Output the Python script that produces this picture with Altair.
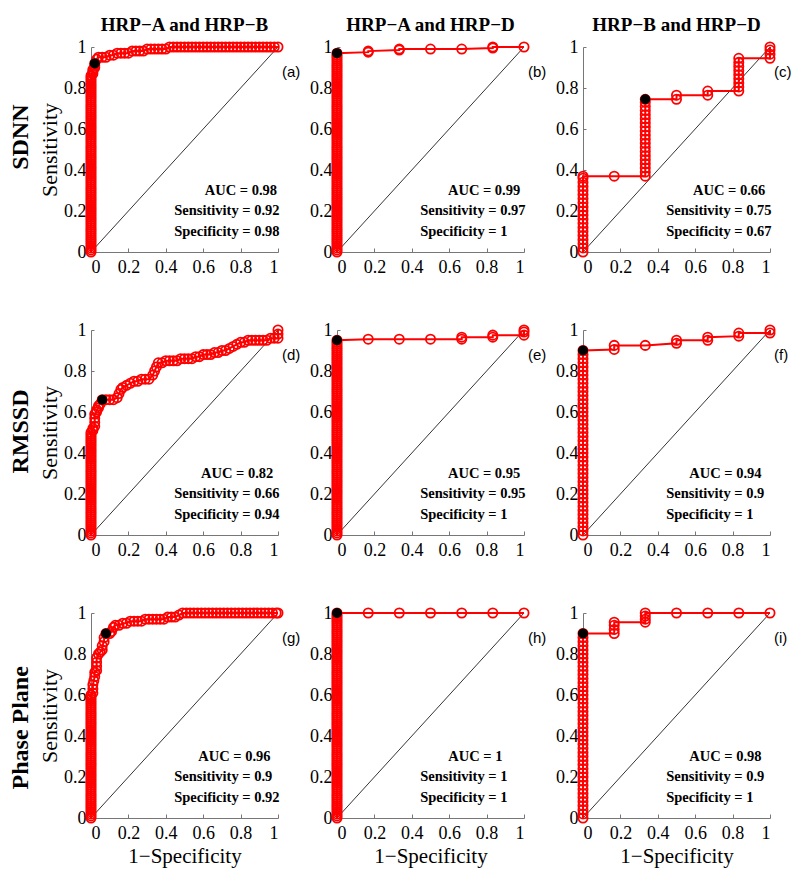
import altair as alt
import pandas as pd

# ---------------- values ----------------
col_titles = ["HRP−A and HRP−B", "HRP−A and HRP−D", "HRP−B and HRP−D"]
row_titles = ["SDNN", "RMSSD", "Phase Plane"]
panel_tags = ["(a)", "(b)", "(c)", "(d)", "(e)", "(f)", "(g)", "(h)", "(i)"]
auc_values = ["0.98", "0.99", "0.66", "0.82", "0.95", "0.94", "0.96", "1", "0.98"]
sens_values = ["0.92", "0.97", "0.75", "0.66", "0.95", "0.9", "0.9", "1", "0.9"]
spec_values = ["0.98", "1", "0.67", "0.94", "1", "1", "0.92", "1", "1"]
op_fpr = [0.02, 0.0, 0.333, 0.06, 0.0, 0.0, 0.08, 0.0, 0.0]
op_tpr = [0.92, 0.97, 0.745, 0.66, 0.95, 0.90, 0.90, 1.0, 0.90]
tick_values = [0, 0.2, 0.4, 0.6, 0.8, 1]
diag_x = [0, 1]
diag_y = [0, 1]

# sensitivities (in %) of the thresholds stacked at 1-specificity = 0
stack_a = [0, 1, 2, 3, 4, 5, 6, 7, 8, 9, 10, 11, 12, 13, 14, 15, 16, 17, 18, 19,
           20, 21, 22, 23, 24, 25, 26, 27, 28, 29, 30, 31, 32, 33, 34, 35, 36, 37, 38, 39,
           40, 41, 42, 43, 44, 45, 46, 47, 48, 49, 50, 51, 52, 53, 54, 55, 56, 57, 58, 59,
           60, 61, 62, 63, 64, 65, 66, 67, 68, 69, 70, 71, 72, 73, 74, 75, 76, 77, 78, 79,
           80, 81, 82, 83, 84, 85, 86]
stack_b = [0, 1, 2, 3, 4, 5, 6, 7, 8, 9, 10, 11, 12, 13, 14, 15, 16, 17, 18, 19,
           20, 21, 22, 23, 24, 25, 26, 27, 28, 29, 30, 31, 32, 33, 34, 35, 36, 37, 38, 39,
           40, 41, 42, 43, 44, 45, 46, 47, 48, 49, 50, 51, 52, 53, 54, 55, 56, 57, 58, 59,
           60, 61, 62, 63, 64, 65, 66, 67, 68, 69, 70, 71, 72, 73, 74, 75, 76, 77, 78, 79,
           80, 81, 82, 83, 84, 85, 86, 87, 88, 89, 90, 91, 92, 93, 94, 95, 96, 97]
stack_c = [0, 2, 4, 6, 8, 10, 12, 14, 16, 18, 20, 22, 24, 26, 28, 30, 32, 34, 36, 37]
stack_d = [0, 1, 2, 3, 4, 5, 6, 7, 8, 9, 10, 11, 12, 13, 14, 15, 16, 17, 18, 19,
           20, 21, 22, 23, 24, 25, 26, 27, 28, 29, 30, 31, 32, 33, 34, 35, 36, 37, 38, 39,
           40, 41, 42, 43, 44, 45, 46, 47, 48, 49, 50]
stack_e = [0, 1, 2, 3, 4, 5, 6, 7, 8, 9, 10, 11, 12, 13, 14, 15, 16, 17, 18, 19,
           20, 21, 22, 23, 24, 25, 26, 27, 28, 29, 30, 31, 32, 33, 34, 35, 36, 37, 38, 39,
           40, 41, 42, 43, 44, 45, 46, 47, 48, 49, 50, 51, 52, 53, 54, 55, 56, 57, 58, 59,
           60, 61, 62, 63, 64, 65, 66, 67, 68, 69, 70, 71, 72, 73, 74, 75, 76, 77, 78, 79,
           80, 81, 82, 83, 84, 85, 86, 87, 88, 89, 90, 91, 92, 93, 94, 95]
stack_f = [0, 2, 4, 6, 8, 10, 12, 14, 16, 18, 20, 22, 24, 26, 28, 30, 32, 34, 36, 38,
           40, 42, 44, 46, 48, 50, 52, 54, 56, 58, 60, 62, 64, 66, 68, 70, 72, 74, 76, 78,
           80, 82, 84, 86, 88, 90]
stack_g = [0, 1, 2, 3, 4, 5, 6, 7, 8, 9, 10, 11, 12, 13, 14, 15, 16, 17, 18, 19,
           20, 21, 22, 23, 24, 25, 26, 27, 28, 29, 30, 31, 32, 33, 34, 35, 36, 37, 38, 39,
           40, 41, 42, 43, 44, 45, 46, 47, 48, 49, 50, 51, 52, 53, 54, 55, 56, 57, 58, 59, 60]
stack_h = [0, 1, 2, 3, 4, 5, 6, 7, 8, 9, 10, 11, 12, 13, 14, 15, 16, 17, 18, 19,
           20, 21, 22, 23, 24, 25, 26, 27, 28, 29, 30, 31, 32, 33, 34, 35, 36, 37, 38, 39,
           40, 41, 42, 43, 44, 45, 46, 47, 48, 49, 50, 51, 52, 53, 54, 55, 56, 57, 58, 59,
           60, 61, 62, 63, 64, 65, 66, 67, 68, 69, 70, 71, 72, 73, 74, 75, 76, 77, 78, 79,
           80, 81, 82, 83, 84, 85, 86, 87, 88, 89, 90, 91, 92, 93, 94, 95, 96, 97, 98, 99, 100]
stack_i = [0, 2, 4, 6, 8, 10, 12, 14, 16, 18, 20, 22, 24, 26, 28, 30, 32, 34, 36, 38,
           40, 42, 44, 46, 48, 50, 52, 54, 56, 58, 60, 62, 64, 66, 68, 70, 72, 74, 76, 78,
           80, 82, 84, 86, 88, 90]

# remaining ROC points (1-specificity, sensitivity)
a_fpr = [0.01, 0.01, 0.01, 0.02, 0.02, 0.02, 0.03, 0.04,
         0.06, 0.08, 0.10, 0.12, 0.14, 0.16, 0.18, 0.20, 0.22, 0.24, 0.26, 0.28, 0.30, 0.32,
         0.34, 0.36, 0.38, 0.40, 0.42, 0.44, 0.46, 0.48, 0.50, 0.52, 0.54, 0.56, 0.58, 0.60,
         0.62, 0.64, 0.66, 0.68, 0.70, 0.72, 0.74, 0.76, 0.78, 0.80, 0.82, 0.84, 0.86, 0.88,
         0.90, 0.92, 0.94, 0.96, 0.98, 1.00]
a_tpr = [0.87, 0.88, 0.89, 0.90, 0.91, 0.92, 0.94, 0.95,
         0.95, 0.95, 0.96, 0.96, 0.97, 0.97, 0.97, 0.97, 0.98, 0.98, 0.98, 0.98, 0.99, 0.99,
         0.99, 0.99, 0.99, 0.99, 1.00, 1.00, 1.00, 1.00, 1.00, 1.00, 1.00, 1.00, 1.00, 1.00,
         1.00, 1.00, 1.00, 1.00, 1.00, 1.00, 1.00, 1.00, 1.00, 1.00, 1.00, 1.00, 1.00, 1.00,
         1.00, 1.00, 1.00, 1.00, 1.00, 1.00]
b_fpr = [0.167, 0.167, 0.333, 0.333, 0.5, 0.667, 0.833, 0.833, 1.0]
b_tpr = [0.975, 0.98, 0.985, 0.99, 0.99, 0.99, 0.995, 1.0, 1.0]
c_fpr = [0.167,
         0.333, 0.333, 0.333, 0.333, 0.333, 0.333, 0.333, 0.333, 0.333, 0.333,
         0.333, 0.333, 0.333, 0.333, 0.333, 0.333, 0.333, 0.333, 0.333, 0.333,
         0.5, 0.5, 0.667, 0.667,
         0.833, 0.833, 0.833, 0.833, 0.833, 0.833, 0.833, 0.833, 0.833,
         1.0, 1.0, 1.0, 1.0]
c_tpr = [0.37,
         0.37, 0.39, 0.41, 0.43, 0.45, 0.47, 0.49, 0.51, 0.53, 0.55,
         0.57, 0.59, 0.61, 0.63, 0.65, 0.67, 0.69, 0.71, 0.73, 0.745,
         0.745, 0.765, 0.765, 0.785,
         0.785, 0.805, 0.825, 0.845, 0.865, 0.885, 0.905, 0.925, 0.945,
         0.945, 0.965, 0.985, 1.0]
d_fpr = [0.01, 0.01, 0.02, 0.02, 0.02, 0.02, 0.03, 0.03, 0.04, 0.04, 0.05, 0.06,
         0.08, 0.10, 0.12, 0.14, 0.15, 0.16, 0.17, 0.19, 0.21, 0.23, 0.25, 0.27, 0.29,
         0.31, 0.33, 0.34, 0.35, 0.36,
         0.38, 0.40, 0.42, 0.44, 0.46, 0.48, 0.50, 0.52, 0.54, 0.56, 0.58, 0.60, 0.62,
         0.64, 0.66, 0.68, 0.70, 0.72, 0.74, 0.76, 0.78, 0.80, 0.82, 0.84, 0.86, 0.88,
         0.90, 0.92, 0.94, 0.96, 0.98, 1.00, 1.00, 1.00]
d_tpr = [0.51, 0.52, 0.53, 0.55, 0.57, 0.59, 0.60, 0.61, 0.62, 0.63, 0.64, 0.66,
         0.66, 0.66, 0.66, 0.67, 0.69, 0.71, 0.72, 0.73, 0.74, 0.75, 0.75, 0.76, 0.76,
         0.76, 0.78, 0.80, 0.82, 0.84,
         0.84, 0.85, 0.85, 0.85, 0.85, 0.86, 0.86, 0.86, 0.86, 0.87, 0.87, 0.88, 0.88,
         0.88, 0.89, 0.89, 0.90, 0.90, 0.91, 0.92, 0.93, 0.94, 0.94, 0.95, 0.95, 0.95,
         0.95, 0.95, 0.95, 0.96, 0.96, 0.96, 0.98, 1.00]
e_fpr = [0.167, 0.333, 0.5, 0.667, 0.667, 0.833, 0.833, 1.0, 1.0, 1.0]
e_tpr = [0.955, 0.955, 0.955, 0.955, 0.965, 0.965, 0.975, 0.975, 0.99, 1.0]
f_fpr = [0.167, 0.167, 0.333, 0.5, 0.5, 0.667, 0.667, 0.833, 0.833, 1.0, 1.0]
f_tpr = [0.905, 0.925, 0.925, 0.935, 0.95, 0.95, 0.965, 0.97, 0.985, 0.985, 1.0]
g_fpr = [0.01, 0.01, 0.01, 0.015, 0.02, 0.02, 0.03, 0.03, 0.03, 0.03, 0.04, 0.05,
         0.06, 0.06, 0.07, 0.07, 0.08,
         0.10, 0.11, 0.12, 0.13, 0.15, 0.17, 0.19, 0.21, 0.23, 0.25, 0.27, 0.29, 0.31,
         0.33, 0.35, 0.37, 0.39, 0.41, 0.43, 0.45, 0.47, 0.49,
         0.51, 0.53, 0.55, 0.57, 0.59, 0.61, 0.63, 0.65, 0.67, 0.69, 0.71, 0.73, 0.75,
         0.77, 0.79, 0.81, 0.83, 0.85, 0.87, 0.89, 0.91, 0.93, 0.95, 0.97, 0.99, 1.00]
g_tpr = [0.61, 0.63, 0.65, 0.67, 0.69, 0.71, 0.72, 0.74, 0.76, 0.78, 0.80, 0.81,
         0.82, 0.84, 0.86, 0.88, 0.90,
         0.90, 0.91, 0.93, 0.94, 0.94, 0.95, 0.95, 0.96, 0.96, 0.96, 0.96, 0.97, 0.97,
         0.97, 0.97, 0.97, 0.97, 0.98, 0.98, 0.98, 0.99, 1.00,
         1.00, 1.00, 1.00, 1.00, 1.00, 1.00, 1.00, 1.00, 1.00, 1.00, 1.00, 1.00, 1.00,
         1.00, 1.00, 1.00, 1.00, 1.00, 1.00, 1.00, 1.00, 1.00, 1.00, 1.00, 1.00, 1.00]
h_fpr = [0.167, 0.333, 0.5, 0.667, 0.833, 1.0]
h_tpr = [1.0, 1.0, 1.0, 1.0, 1.0, 1.0]
i_fpr = [0.167, 0.167, 0.167, 0.167, 0.333, 0.333, 0.333, 0.333, 0.5, 0.667, 0.833, 1.0]
i_tpr = [0.90, 0.92, 0.94, 0.955, 0.955, 0.97, 0.985, 1.0, 1.0, 1.0, 1.0, 1.0]

panel_values = [
    (stack_a, a_fpr, a_tpr), (stack_b, b_fpr, b_tpr), (stack_c, c_fpr, c_tpr),
    (stack_d, d_fpr, d_tpr), (stack_e, e_fpr, e_tpr), (stack_f, f_fpr, f_tpr),
    (stack_g, g_fpr, g_tpr), (stack_h, h_fpr, h_tpr), (stack_i, i_fpr, i_tpr),
]

# ---------------- layout / style ----------------
W, H = 187, 205
RED = "#ff0000"
SERIF = "Liberation Serif"
SANS = "Liberation Sans"
AXIS_GRAY = "#777777"
auc_right = [0.995, 0.98, 0.975, 0.975, 0.98, 0.955, 0.96, 0.885, 0.955]
sens_left = 0.445
row_title_y = [0.44, 0.495, 0.56]


def roc_table(stack, fpr, tpr):
    xs = [0.0] * len(stack) + list(fpr)
    ys = [v / 100 for v in stack] + list(tpr)
    return pd.DataFrame({"fpr": xs, "tpr": ys, "k": list(range(len(xs)))})


def sx():
    return alt.Scale(domain=[0, 1], nice=False, zero=False)


def text_layer(label, x, y, **mk):
    return alt.Chart(pd.DataFrame({"label": [label]})).mark_text(**mk).encode(
        x=alt.value(x), y=alt.value(y), text="label:N")


def make_panel(i):
    r, c = divmod(i, 3)
    df = roc_table(*panel_values[i])

    x_main = alt.X("fpr:Q", scale=sx(), axis=alt.Axis(
        orient="bottom", values=tick_values, format="~g", ticks=False,
        labelFont=SERIF, labelFontSize=18, labelColor="black", labelPadding=6,
        domainColor=AXIS_GRAY, domainWidth=1, grid=False,
        title="1−Specificity" if r == 2 else None,
        titleFont=SERIF, titleFontSize=21, titleFontWeight="normal",
        titleColor="black", titlePadding=3))
    y_main = alt.Y("tpr:Q", scale=sx(), axis=alt.Axis(
        orient="left", values=tick_values, format="~g", ticks=False,
        labelFont=SERIF, labelFontSize=18, labelColor="black", labelPadding=5,
        domainColor=AXIS_GRAY, domainWidth=1, grid=False,
        title="Sensitivity" if c == 0 else None,
        titleFont=SERIF, titleFontSize=22, titleFontWeight="normal",
        titleColor="black", titlePadding=2))
    x_ticks = alt.X("fpr:Q", scale=sx(), axis=alt.Axis(
        orient="top", offset=-H, values=tick_values, labels=False, domain=False,
        ticks=True, tickSize=4, tickColor=AXIS_GRAY, grid=False, title=None))
    y_ticks = alt.Y("tpr:Q", scale=sx(), axis=alt.Axis(
        orient="right", offset=-W, values=tick_values, labels=False, domain=False,
        ticks=True, tickSize=3, tickColor=AXIS_GRAY, grid=False, title=None))

    diag = alt.Chart(pd.DataFrame({"fpr": diag_x, "tpr": diag_y})).mark_line(
        color="black", strokeWidth=0.8).encode(
        x=alt.X("fpr:Q", scale=sx(), axis=None), y=alt.Y("tpr:Q", scale=sx(), axis=None))
    line = alt.Chart(df).mark_line(color=RED, strokeWidth=2).encode(
        x=x_main, y=y_main, order="k:Q")
    pts = alt.Chart(df).mark_point(shape="circle", filled=False, color=RED,
                                   strokeWidth=1.8, size=85, opacity=1).encode(
        x=x_ticks, y=y_ticks)
    op = alt.Chart(pd.DataFrame({"fpr": [op_fpr[i]], "tpr": [op_tpr[i]]})).mark_point(
        shape="circle", filled=True, color="black", size=100, opacity=1).encode(
        x=alt.X("fpr:Q", scale=sx(), axis=None), y=alt.Y("tpr:Q", scale=sx(), axis=None))

    bold = dict(font=SERIF, fontSize=14.5, fontWeight="bold", color="black", baseline="middle")
    layers = [diag, line, pts, op,
              text_layer("AUC = " + auc_values[i], W * auc_right[i], H * (1 - 0.30), align="right", **bold),
              text_layer("Sensitivity = " + sens_values[i], W * sens_left, H * (1 - 0.20), align="left", **bold),
              text_layer("Specificity = " + spec_values[i], W * sens_left, H * (1 - 0.10), align="left", **bold),
              text_layer(panel_tags[i], W + 4, 25, align="left", baseline="middle",
                         font=SANS, fontSize=15, color="black")]
    if r == 0:
        layers.append(text_layer(col_titles[c], W / 2, -16, align="center", baseline="alphabetic",
                                 font=SERIF, fontSize=19, fontWeight="bold", color="black"))
    if c == 0:
        layers.append(text_layer(row_titles[r], -70, H * row_title_y[r], align="center",
                                 baseline="middle", angle=270, font=SERIF, fontSize=24,
                                 fontWeight="bold", color="black"))
    return alt.layer(*layers).resolve_axis(x="independent", y="independent").properties(
        width=W, height=H)


chart = alt.concat(*[make_panel(i) for i in range(9)], columns=3,
                   spacing={"row": 78, "column": 59}, bounds="flush").properties(
    background="white", padding={"left": 0, "top": 8, "right": 0, "bottom": 8}
).configure_view(stroke=None)

chart.save("out.html", embed_options={"renderer": "svg", "actions": False})
